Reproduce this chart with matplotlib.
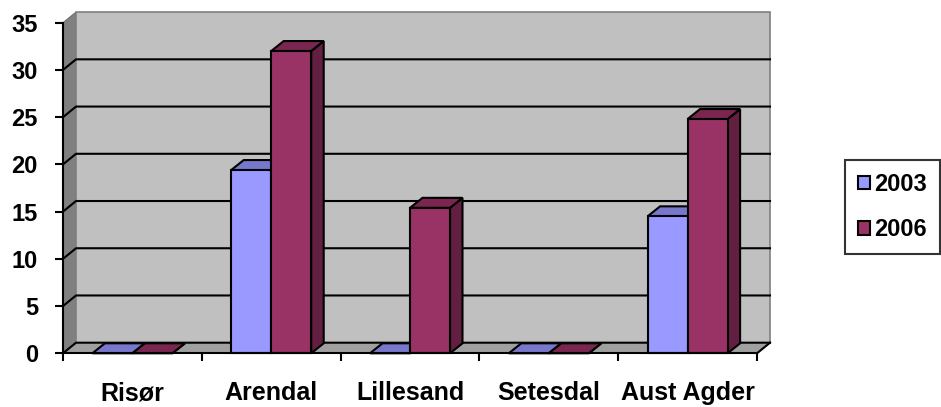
import matplotlib
matplotlib.use("Agg")
import matplotlib.pyplot as plt
from matplotlib.patches import Polygon, Patch

plt.rcParams['font.family'] = ['Liberation Sans', 'DejaVu Sans']
plt.rcParams['font.weight'] = 'bold'

# ── data ────────────────────────────────────────────────────────────────
kommuner   = ["Risør", "Arendal", "Lillesand", "Setesdal", "Aust Agder"]
years      = ["2003", "2006"]
values2003 = [0, 19.4, 0, 0, 14.5]
values2006 = [0, 32.0, 15.4, 0, 24.8]
y_ticks    = [0, 5, 10, 15, 20, 25, 30, 35]

# face colours (front, top, side) for each series
faces = {
    "2003": ("#9999FF", "#7777CC", "#6666AA"),
    "2006": ("#993366", "#7A2650", "#631F42"),
}

W, H = 941, 407
fig = plt.figure(figsize=(W / 100, H / 100), dpi=100)

# front plane of the 3d box, in pixels
x_left, x_right = 63, 757
y_zero, y_top = 353.3, 22.7
ax = fig.add_axes([x_left / W, 1 - y_zero / H,
                   (x_right - x_left) / W, (y_zero - y_top) / H])
n = len(kommuner)
ymax = 35
ax.set_xlim(0, n)
ax.set_ylim(0, ymax)

px_x = (x_right - x_left) / n          # pixels per category
px_y = (y_zero - y_top) / ymax         # pixels per unit
# depth offsets of walls and bars, in data units
wdx, wdy = 13 / px_x, 10.6 / px_y
bdx, bdy = 12.5 / px_x, 10.0 / px_y
LW = 1.5

def poly(pts, fc, ec="black", lw=LW, z=1):
    ax.add_patch(Polygon(pts, closed=True, facecolor=fc, edgecolor=ec,
                         linewidth=lw, clip_on=False, zorder=z,
                         joinstyle="miter"))

# walls and floor
poly([(0, 0), (wdx, wdy), (wdx, ymax + wdy), (0, ymax)], "#808080",
     ec="#707070", lw=0.8, z=0)
poly([(wdx, wdy), (n + wdx, wdy), (n + wdx, ymax + wdy), (wdx, ymax + wdy)],
     "#C0C0C0", ec="#808080", lw=1.2, z=0)
poly([(0, 0), (n, 0), (n + wdx, wdy), (wdx, wdy)], "#A0A0A0",
     ec="none", lw=0, z=0.5)

# gridlines on left and back wall
for v in y_ticks[:-1]:
    ax.plot([0, wdx, n + wdx], [v, v + wdy, v + wdy], color="black",
            lw=LW, clip_on=False, zorder=0.8)
# right edge of the floor
ax.plot([n, n + wdx], [0, wdy], color="black", lw=LW, clip_on=False,
        zorder=0.8)

# 3d columns
bar_w = 40 / px_x
for i in range(n):
    for k, (yr, vals) in enumerate([("2003", values2003), ("2006", values2006)]):
        v = vals[i]
        x0 = i + 0.5 - bar_w + k * bar_w
        x1 = x0 + bar_w
        front, top, side = faces[yr]
        z = 2 + i + k * 0.5
        poly([(x1, 0), (x1 + bdx, bdy), (x1 + bdx, v + bdy), (x1, v)], side, z=z)
        poly([(x0, v), (x1, v), (x1 + bdx, v + bdy), (x0 + bdx, v + bdy)], top, z=z)
        if v > 0:
            poly([(x0, 0), (x1, 0), (x1, v), (x0, v)], front, z=z)

# axes
for s in ["top", "right"]:
    ax.spines[s].set_visible(False)
for s in ["left", "bottom"]:
    ax.spines[s].set_linewidth(LW)
    ax.spines[s].set_zorder(20)
ax.set_facecolor("none")

ax.set_yticks(y_ticks)
ax.set_yticklabels([str(t) for t in y_ticks], fontsize=17, fontweight="bold")
ax.tick_params(axis="y", direction="out", length=6, width=LW, pad=12)

ax.set_xticks(range(n + 1))
ax.set_xticklabels([])
ax.set_xticks([i + 0.5 for i in range(n)], minor=True)
ax.set_xticklabels(kommuner, minor=True, fontsize=18, fontweight="bold")
ax.tick_params(axis="x", which="major", direction="out", length=5.5, width=LW)
ax.tick_params(axis="x", which="minor", length=0, pad=20)

# legend
handles = [Patch(facecolor=faces[y][0], edgecolor="black", linewidth=LW)
           for y in years]
leg = fig.legend(handles, years, loc="center left",
                 bbox_to_anchor=(845 / W, 1 - 207 / H),
                 prop={"size": 17, "weight": "bold"},
                 frameon=True, fancybox=False, borderaxespad=0,
                 handlelength=0.5, handleheight=0.5, handletextpad=0.2,
                 labelspacing=0.95, borderpad=0.55)
leg.get_frame().set_edgecolor("black")
leg.get_frame().set_linewidth(LW)

fig.savefig("out.png", dpi=100)
